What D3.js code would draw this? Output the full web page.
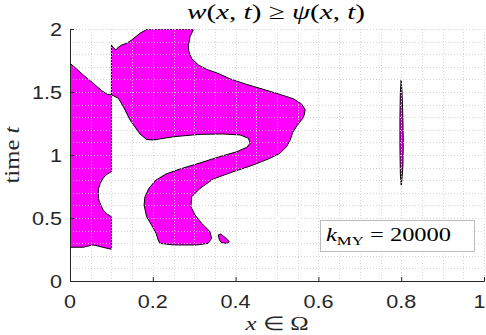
<!DOCTYPE html>
<html><head><meta charset="utf-8">
<script src="https://cdn.jsdelivr.net/npm/d3@7"></script>
<style>body{margin:0;background:#fff;} svg{display:block;}</style>
</head><body>
<svg id="chart" width="486" height="335"></svg>
<script>
// ---- data (x in Omega, time t) ----
const regionLeft = [[0,1.728],[0.016,1.683],[0.032,1.635],[0.056,1.569],[0.077,1.51],[0.09,1.482],[0.1,1.476],
  [0.1,0.867],[0.088,0.845],[0.08,0.815],[0.073,0.775],[0.069,0.735],[0.068,0.696],[0.069,0.655],[0.071,0.629],
  [0.08,0.563],[0.088,0.535],[0.1,0.51],[0.1,0.252],[0.08,0.267],[0.062,0.282],[0.056,0.286],[0.05,0.282],
  [0.032,0.268],[0,0.268]];
const regionMain = [[0.1,1.476],[0.1,1.873],[0.106,1.847],[0.111,1.833],[0.117,1.857],[0.125,1.873],[0.137,1.887],
  [0.149,1.913],[0.169,1.966],[0.187,2.0],[0.299,2.0],[0.29,1.94],[0.286,1.87],[0.287,1.825],[0.294,1.765],
  [0.31,1.715],[0.33,1.68],[0.36,1.645],[0.386,1.605],[0.427,1.56],[0.467,1.521],[0.507,1.481],[0.539,1.447],
  [0.559,1.406],[0.568,1.36],[0.566,1.32],[0.562,1.29],[0.549,1.235],[0.538,1.18],[0.532,1.119],[0.523,1.066],
  [0.507,1.013],[0.483,0.974],[0.443,0.921],[0.394,0.867],[0.346,0.81],[0.314,0.735],[0.294,0.669],[0.292,0.59],
  [0.302,0.524],[0.318,0.458],[0.338,0.392],[0.342,0.339],[0.334,0.299],[0.306,0.286],[0.25,0.286],[0.217,0.299],
  [0.213,0.325],[0.208,0.378],[0.197,0.444],[0.185,0.51],[0.179,0.603],[0.181,0.669],[0.191,0.738],[0.208,0.802],
  [0.232,0.849],[0.266,0.889],[0.314,0.937],[0.362,0.987],[0.403,1.026],[0.427,1.061],[0.435,1.093],[0.431,1.133],
  [0.411,1.159],[0.37,1.167],[0.314,1.164],[0.25,1.145],[0.201,1.119],[0.185,1.123],[0.169,1.167],[0.145,1.278],
  [0.129,1.383],[0.117,1.45],[0.104,1.472]];
const regionBlob = [[0.358,0.365],[0.364,0.373],[0.374,0.347],[0.385,0.312],[0.379,0.299],[0.366,0.304],[0.361,0.325]];
const regionSliver = [[0.8,1.595],[0.802,1.5],[0.804,1.3],[0.805,1.1],[0.804,0.9],[0.801,0.78],[0.8,0.762],
  [0.798,0.85],[0.797,1.05],[0.797,1.3],[0.798,1.5]];
const xTicks = [0, 0.2, 0.4, 0.6, 0.8, 1];
const xTickLabels = ["0", "0.2", "0.4", "0.6", "0.8", "1"];
const yTicks = [0, 0.5, 1, 1.5, 2];
const yTickLabels = ["0", "0.5", "1", "1.5", "2"];
const xMinorGrid = d3.range(0, 1.0001, 0.05);
const yMinorGrid = d3.range(0, 2.0001, 0.1);
const legendValue = "20000";

// ---- layout ----
const svg = d3.select("#chart");
const W = 486;
const L = 70, R = 484, T = 29, B = 281;
const SX = 1.2; // horizontal text stretch of the original
const x = d3.scaleLinear().domain([0, 1]).range([L, R]);
const y = d3.scaleLinear().domain([0, 2]).range([B, T]);
const MAG = "#ff00ff";

svg.append("defs").append("clipPath").attr("id", "plotclip")
  .append("rect").attr("x", L).attr("y", T).attr("width", R - L).attr("height", B - T);

const line = d3.line().x(d => x(d[0])).y(d => y(d[1]));
const plot = svg.append("g").attr("clip-path", "url(#plotclip)");

[regionLeft, regionMain, regionBlob, regionSliver].forEach(reg => {
  plot.append("path").attr("d", line(reg) + "Z")
    .attr("fill", MAG).attr("stroke", "#000").attr("stroke-width", 1)
    .attr("stroke-linejoin", "round");
});

// grid on top (dotted)
const grid = svg.append("g").attr("stroke", "#d0d0d0").attr("stroke-width", 1)
  .attr("stroke-dasharray", "1,2").attr("opacity", 0.9);
xMinorGrid.forEach(v => grid.append("line").attr("x1", Math.round(x(v)) + 0.5).attr("x2", Math.round(x(v)) + 0.5)
  .attr("y1", T).attr("y2", B));
yMinorGrid.forEach(v => grid.append("line").attr("y1", Math.round(y(v)) + 0.5).attr("y2", Math.round(y(v)) + 0.5)
  .attr("x1", L).attr("x2", R));

// axes (inward ticks)
const axCol = "#262626";
const xAxis = svg.append("g").attr("transform", `translate(0,${B})`)
  .call(d3.axisBottom(x).tickValues(xTicks).tickSize(-4).tickFormat(""));
const yAxis = svg.append("g").attr("transform", `translate(${L},0)`)
  .call(d3.axisLeft(y).tickValues(yTicks).tickSize(-4).tickFormat(""));
[xAxis, yAxis].forEach(a => {
  a.select(".domain").attr("stroke", axCol).attr("stroke-width", 1);
  a.selectAll(".tick line").attr("stroke", axCol);
});

function stretched(xp, yp, anchor, font, size) {
  const g = svg.append("g").attr("transform", `translate(${xp},${yp}) scale(${SX},1)`);
  return g.append("text").attr("text-anchor", anchor).attr("font-family", font)
    .attr("font-size", size).attr("fill", "#262626");
}
// scale text so its length equals target (after content is added)
function fit(textSel, xp, yp, target, rot, thick) {
  const w = textSel.node().getComputedTextLength();
  const s = target / w;
  d3.select(textSel.node().parentNode).attr("transform",
    rot ? `translate(${xp},${yp}) rotate(-90) scale(${s},${thick})` : `translate(${xp},${yp}) scale(${s},1)`);
}
const sans = "Liberation Sans, Arial, sans-serif";
const serif = "Liberation Serif, Times New Roman, serif";

xTicks.forEach((v, i) => {
  const last = i === xTicks.length - 1;
  // keep the last label inside the canvas
  stretched(last ? W - 0.5 : x(v), 308, last ? "end" : "middle", sans, 18).text(xTickLabels[i]);
});
yTicks.forEach((v, i) => {
  stretched(62, y(v) + 6.5, "end", sans, 18).text(yTickLabels[i]);
});

// title
const tt = stretched(0, 0, "middle", serif, 22).attr("fill", "#000");
[["w",1],["(",0],["x",1],[", ",0],["t",1],[")",0],[" \u2265 ",0],["\u03C8",1],["(",0],["x",1],[", ",0],["t",1],[")",0]]
  .forEach(p => tt.append("tspan").attr("font-style", p[1] ? "italic" : "normal").text(p[0]));
fit(tt, 276, 19, 178);

// x label
const xl = stretched(0, 0, "middle", serif, 19).attr("fill", "#262626");
xl.append("tspan").attr("font-style", "italic").text("x");
xl.append("tspan").text(" \u2208 \u03A9");
fit(xl, 277, 330, 63);

// y label
const yl = stretched(0, 0, "middle", serif, 19).attr("fill", "#262626");
yl.append("tspan").text("time ");
yl.append("tspan").attr("font-style", "italic").text("t");
fit(yl, 19, 155, 57, true, 1.1);

// legend box
svg.append("rect").attr("x", 320.5).attr("y", 220.5).attr("width", 154).attr("height", 31)
  .attr("fill", "#fff").attr("stroke", "#bdbdbd").attr("stroke-width", 1);
const lg = stretched(0, 0, "start", serif, 19).attr("fill", "#000");
lg.append("tspan").attr("font-style", "italic").text("k");
lg.append("tspan").attr("font-size", 13).attr("dy", 4).text("MY");
lg.append("tspan").attr("dy", -4).text(" = " + legendValue);
fit(lg, 326, 241, 125);
</script>
</body></html>
